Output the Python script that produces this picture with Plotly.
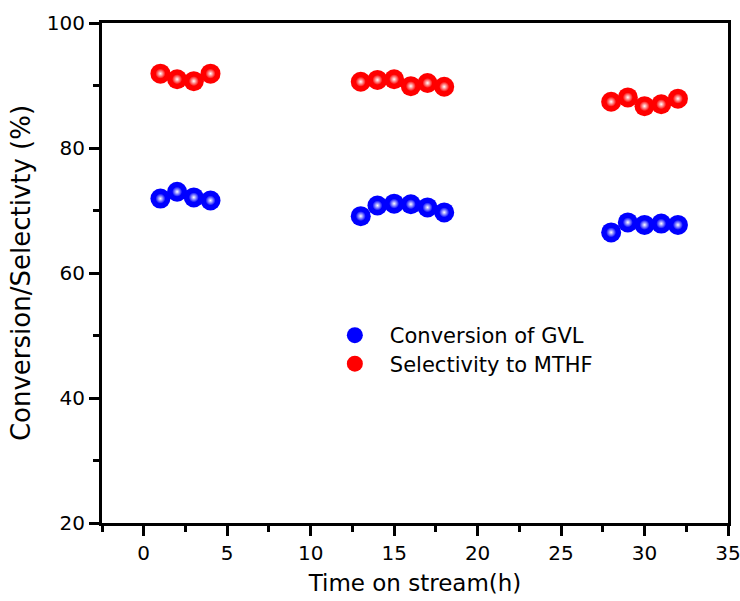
import plotly.graph_objects as go

# Data
time_h = [1, 2, 3, 4, 13, 14, 15, 16, 17, 18, 28, 29, 30, 31, 32]
conversion_gvl = [71.9, 73.0, 72.1, 71.6, 69.1, 70.8, 71.1, 71.0, 70.5, 69.7, 66.5, 68.1, 67.7, 67.9, 67.7]
selectivity_mthf = [91.9, 91.0, 90.7, 91.9, 90.6, 90.9, 91.0, 89.9, 90.4, 89.8, 87.4, 88.1, 86.7, 87.0, 87.9]

FONT = "DejaVu Sans"

fig = go.Figure()

def add_series(y, color, name, legend_id):
    fig.add_trace(go.Scatter(
        x=time_h, y=y, mode="markers", name=name, legend=legend_id,
        marker=dict(size=20, color=color, line=dict(width=0)),
    ))
    fig.add_trace(go.Scatter(
        x=time_h, y=y, mode="markers", showlegend=False,
        hoverinfo="skip",
        marker=dict(size=10, color=color, line=dict(width=0),
                    gradient=dict(type="radial", color="white")),
    ))

add_series(conversion_gvl, "#0000FF", "Conversion of GVL", "legend")
add_series(selectivity_mthf, "#FF0000", "Selectivity to MTHF", "legend2")

axis_common = dict(
    showline=True, linecolor="black", linewidth=3, mirror=True,
    ticks="outside", ticklen=10, tickwidth=3, tickcolor="black",
    showgrid=False, zeroline=False, automargin=False,
    ticklabeloverflow="allow",
    tickfont=dict(family=FONT, size=20, color="black"),
)

fig.update_xaxes(
    range=[-2.5, 35], tick0=0, dtick=5,
    minor=dict(ticks="outside", dtick=2.5, tick0=0, ticklen=6, tickwidth=3, tickcolor="black", showgrid=False),
    title=dict(text="Time on stream(h)", font=dict(family=FONT, size=23, color="black"), standoff=11),
    **axis_common,
)
fig.update_yaxes(
    range=[20, 100], tick0=20, dtick=20,
    minor=dict(ticks="outside", dtick=10, tick0=20, ticklen=6, tickwidth=3, tickcolor="black", showgrid=False),
    title=dict(text="Conversion/Selectivty (%)", font=dict(family=FONT, size=26, color="black"), standoff=9),
    **axis_common,
)

legend_common = dict(
    xanchor="left", yanchor="middle",
    bgcolor="rgba(0,0,0,0)", borderwidth=0,
    font=dict(family=FONT, size=21, color="black"),
    itemwidth=60,
)

fig.update_layout(
    width=740, height=601,
    margin=dict(l=102, r=12, t=23, b=78, autoexpand=False),
    paper_bgcolor="white", plot_bgcolor="white",
    showlegend=True,
    legend=dict(x=0.348, y=0.375, **legend_common),
    legend2=dict(x=0.348, y=0.318, **legend_common),
)

fig.write_html("out.html")
